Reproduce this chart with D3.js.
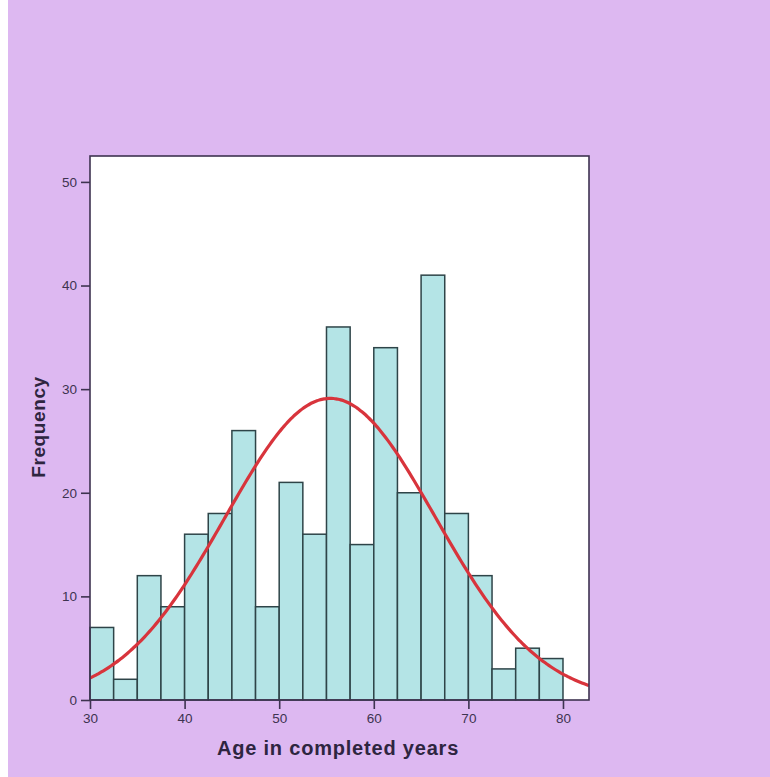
<!DOCTYPE html>
<html><head><meta charset="utf-8">
<script src="https://cdn.jsdelivr.net/npm/d3@7"></script>
<style>
html,body{margin:0;padding:0;background:#fff;}
svg{display:block;}
</style></head>
<body>
<script>
// ---- data ----
const binStarts = [30,32.5,35,37.5,40,42.5,45,47.5,50,52.5,55,57.5,60,62.5,65,67.5,70,72.5,75,77.5];
const binWidth = 2.5;
const frequencies = [7,2,12,9,16,18,26,9,21,16,36,15,34,20,41,18,12,3,5,4];
const xTicks = [30,40,50,60,70,80];
const yTicks = [0,10,20,30,40,50];
const fitMean = 55.4;
const fitSD = 11.1;
const xTitle = "Age in completed years";
const yTitle = "Frequency";

const W = 770, H = 777;
const svg = d3.select("body").append("svg").attr("width", W).attr("height", H);
svg.append("rect").attr("x",8).attr("y",0).attr("width",W-8).attr("height",H).attr("fill","#DDB8F1");

const x = d3.scaleLinear().domain([30, 82.75]).range([90, 589]);
const y = d3.scaleLinear().domain([0, 52.5]).range([700, 156]);

// plot area
svg.append("rect").attr("x",x.range()[0]).attr("y",y.range()[1])
  .attr("width",x.range()[1]-x.range()[0]).attr("height",y.range()[0]-y.range()[1])
  .attr("fill","#fff");

svg.append("clipPath").attr("id","pc").append("rect")
  .attr("x",x.range()[0]).attr("y",y.range()[1])
  .attr("width",x.range()[1]-x.range()[0]).attr("height",y.range()[0]-y.range()[1]);

// bars
svg.append("g").selectAll("rect").data(frequencies).join("rect")
  .attr("x",(d,i)=>x(binStarts[i]))
  .attr("width",(d,i)=>x(binStarts[i]+binWidth)-x(binStarts[i]))
  .attr("y",d=>y(d)).attr("height",d=>y(0)-y(d))
  .attr("fill","#B4E4E6").attr("stroke","#2E4448").attr("stroke-width",1.5);

// normal curve
const N = d3.sum(frequencies);
const pdf = v => N*binWidth/(fitSD*Math.sqrt(2*Math.PI))*Math.exp(-((v-fitMean)**2)/(2*fitSD*fitSD));
const xs = d3.range(x.domain()[0], x.domain()[1]+0.01, 0.25);
svg.append("path").datum(xs)
  .attr("clip-path","url(#pc)")
  .attr("d", d3.line().x(v=>x(v)).y(v=>y(pdf(v))).curve(d3.curveBasis))
  .attr("fill","none").attr("stroke","#D8343C").attr("stroke-width",3.2);

// frame
svg.append("rect").attr("x",x.range()[0]).attr("y",y.range()[1])
  .attr("width",x.range()[1]-x.range()[0]).attr("height",y.range()[0]-y.range()[1])
  .attr("fill","none").attr("stroke","#3E3350").attr("stroke-width",1.6);

const axisColor = "#3E3350";
const font = "Arial, 'Liberation Sans', sans-serif";
// x axis
const gx = svg.append("g").attr("transform",`translate(0,${y(0)})`)
  .call(d3.axisBottom(x).tickValues(xTicks).tickSize(9).tickPadding(4).tickSizeOuter(0));
gx.select(".domain").remove();
gx.selectAll("line").attr("stroke",axisColor).attr("stroke-width",1.6);
gx.selectAll("text").attr("fill","#3E3350").style("font-family",font).style("font-size","13.5px");

// y axis
const gy = svg.append("g").attr("transform",`translate(${x(30)},0)`)
  .call(d3.axisLeft(y).tickValues(yTicks).tickSize(9).tickPadding(4).tickSizeOuter(0));
gy.select(".domain").remove();
gy.selectAll("line").attr("stroke",axisColor).attr("stroke-width",1.6);
gy.selectAll("text").attr("fill","#3E3350").style("font-family",font).style("font-size","13.5px");

// titles
svg.append("text").attr("x",338).attr("y",755).attr("text-anchor","middle")
  .attr("fill","#2E2540").style("font-family",font)
  .style("font-size","20px").style("font-weight","bold").style("letter-spacing","0.8px").text(xTitle);
svg.append("text").attr("transform","translate(45,427) rotate(-90)").attr("text-anchor","middle")
  .attr("fill","#2E2540").style("font-family",font)
  .style("font-size","19px").style("font-weight","bold").style("letter-spacing","0.6px").text(yTitle);
</script>
</body></html>
